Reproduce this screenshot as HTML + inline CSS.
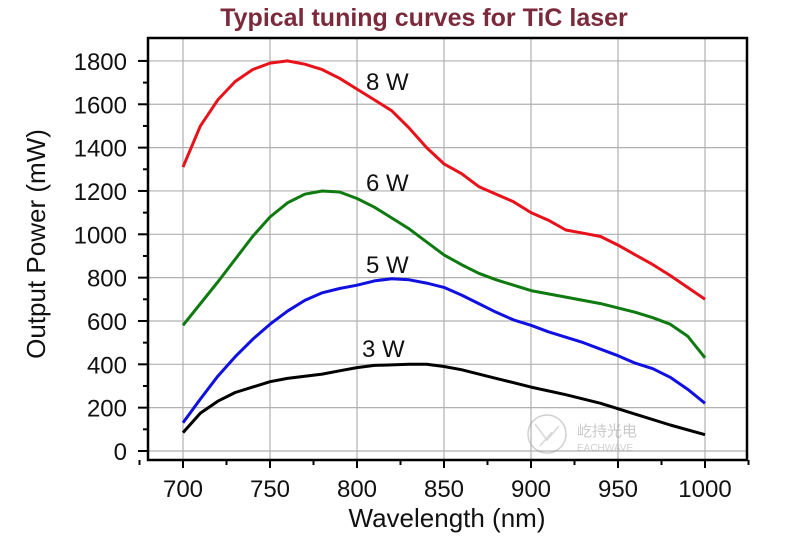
<!DOCTYPE html>
<html><head><meta charset="utf-8"><style>
html,body{margin:0;padding:0;background:#fff;}
svg{display:block;font-family:"Liberation Sans",Arial,sans-serif;}
</style></head><body>
<svg id="c" width="800" height="540" xmlns="http://www.w3.org/2000/svg">
<text x="424" y="26" text-anchor="middle" font-size="25" font-weight="bold" fill="#7b2a3c">Typical tuning curves for TiC laser</text>
<g id="grid" stroke="#b0b0b0" stroke-width="1.2"></g>
<g id="ticks" stroke="#000" stroke-width="2"></g>
<rect x="148" y="38" width="599" height="422" fill="none" stroke="#000" stroke-width="2.5"/>
<g id="labels" font-size="24" fill="#111"></g>
<g id="series" fill="none" stroke-width="3" stroke-linejoin="round"></g>
<g font-size="24" fill="#111">
<text x="366" y="90">8 W</text>
<text x="366" y="191">6 W</text>
<text x="366" y="273">5 W</text>
<text x="362" y="357">3 W</text>
</g>
<text x="447" y="527" text-anchor="middle" font-size="26" fill="#111">Wavelength (nm)</text>
<text transform="translate(45,244) rotate(-90)" text-anchor="middle" font-size="26" fill="#111">Output Power (mW)</text>
<g opacity="0.45">
<circle cx="547" cy="434" r="19" fill="none" stroke="#999" stroke-width="1.5"/>
<path d="M535 424 L547 440 L559 426 M540 446 L552 432" stroke="#aaa" stroke-width="1.5" fill="none"/>
<text x="577" y="436" font-size="15" fill="#888" font-family="'Noto Sans CJK SC',sans-serif">屹持光电</text>
<text x="577" y="451" font-size="10" fill="#999">EACHWAVE</text>
</g>
</svg>
<script>
const X=w=>183+(w-700)*1.74, Y=p=>451-p*0.2167;
const ns="http://www.w3.org/2000/svg";
function el(t,a,p){const e=document.createElementNS(ns,t);for(const k in a)e.setAttribute(k,a[k]);document.getElementById(p).appendChild(e);return e;}
for(let w=700;w<=1000;w+=50){el("line",{x1:X(w),x2:X(w),y1:38,y2:460},"grid");}
for(let p=0;p<=1800;p+=200){el("line",{x1:148,x2:747,y1:Y(p),y2:Y(p)},"grid");}
for(let w=675;w<=1025;w+=25){const m=(w%50==0);el("line",{x1:X(w),x2:X(w),y1:460,y2:m?468:465},"ticks");
 if(m&&w>=700&&w<=1000){const t=el("text",{x:X(w),y:497,"text-anchor":"middle"},"labels");t.textContent=w;}}
for(let p=0;p<=1800;p+=100){const m=(p%200==0);el("line",{x1:m?138:143,x2:148,y1:Y(p),y2:Y(p)},"ticks");
 if(m){const t=el("text",{x:127,y:Y(p)+9,"text-anchor":"end"},"labels");t.textContent=p;}}
const S={
"#e8121a":[[700,1310],[710,1500],[720,1620],[730,1705],[740,1760],[750,1790],[760,1800],[770,1785],[780,1760],[790,1720],[800,1670],[810,1620],[820,1570],[830,1490],[840,1400],[850,1325],[860,1280],[870,1220],[880,1185],[890,1150],[900,1100],[910,1065],[920,1020],[930,1005],[940,990],[950,950],[960,905],[970,860],[980,810],[990,755],[1000,700]],
"#0f7a0f":[[700,580],[720,780],[740,990],[750,1080],[760,1145],[770,1185],[780,1200],[790,1195],[800,1165],[810,1125],[820,1075],[830,1025],[840,965],[850,905],[860,860],[870,820],[880,790],[890,765],[900,740],[920,710],[940,680],[960,640],[970,615],[980,585],[990,530],[1000,430]],
"#1010e0":[[700,130],[710,240],[720,345],[730,435],[740,515],[750,585],[760,645],[770,695],[780,730],[790,750],[800,765],[810,785],[820,795],[830,790],[840,775],[850,755],[860,720],[870,680],[880,640],[890,605],[900,580],[910,550],[920,525],[930,500],[940,470],[950,440],[960,405],[970,380],[980,340],[990,285],[1000,220]],
"#000":[[700,85],[710,175],[720,230],[730,270],[740,295],[750,320],[760,335],[780,355],[790,370],[800,385],[810,395],[830,400],[840,400],[850,390],[860,375],[870,355],[880,335],[890,315],[900,295],[920,260],[940,220],[960,170],[980,120],[1000,75]]};
for(const c in S){el("polyline",{points:S[c].map(d=>X(d[0]).toFixed(1)+","+Y(d[1]).toFixed(1)).join(" "),stroke:c},"series");}
</script>
</body></html>
